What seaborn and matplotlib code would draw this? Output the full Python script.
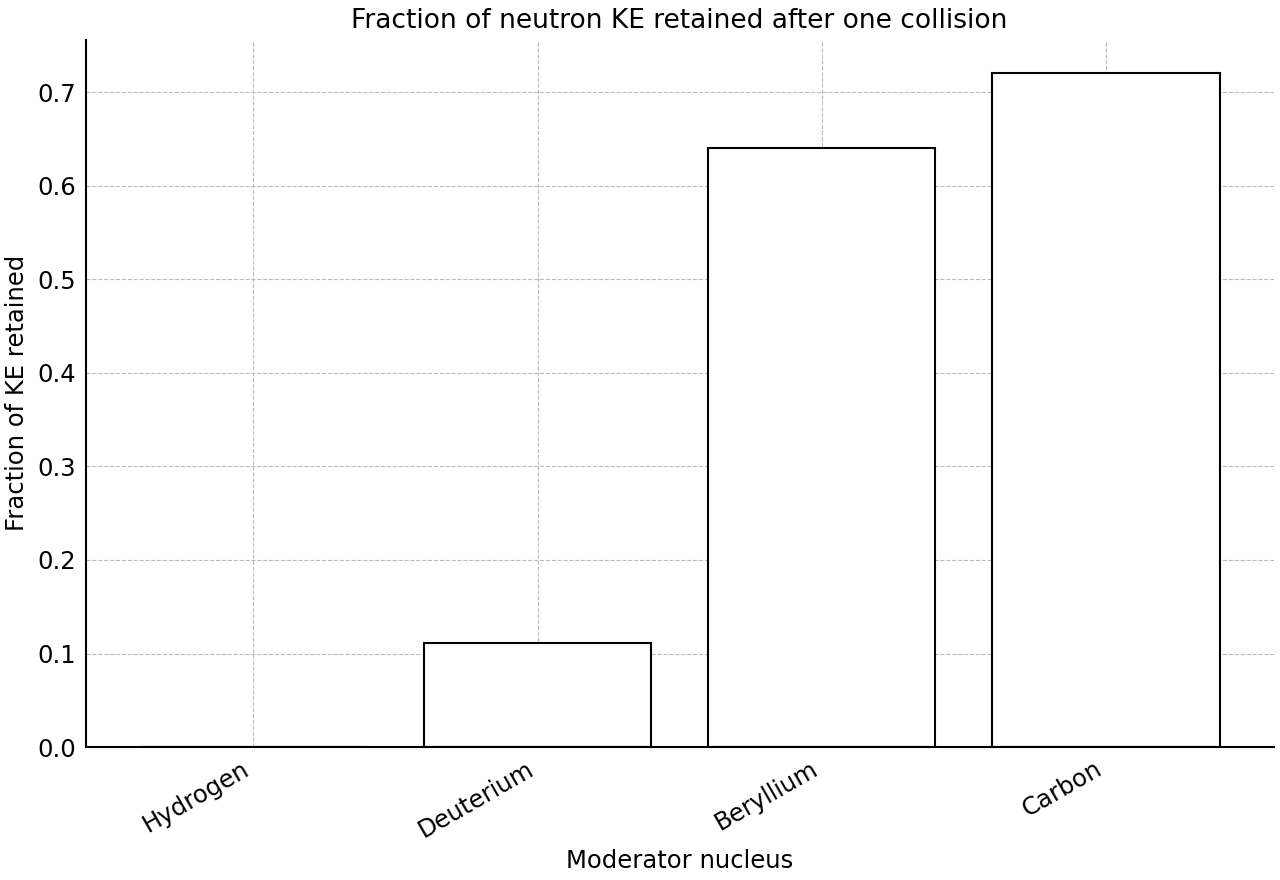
import matplotlib
matplotlib.use("Agg")
import matplotlib.pyplot as plt
import seaborn as sns

nuclei = ["Hydrogen", "Deuterium", "Beryllium", "Carbon"]
ke_retained = [0.0, 0.111, 0.64, 0.72]

sns.set_style("white")
plt.rcParams["font.family"] = ["DejaVu Sans"]
plt.rcParams["text.color"] = "black"
plt.rcParams["axes.labelcolor"] = "black"
plt.rcParams["xtick.color"] = "black"
plt.rcParams["ytick.color"] = "black"

fig, ax = plt.subplots(figsize=(12.8, 8.8), dpi=100)

sns.barplot(x=nuclei, y=ke_retained, ax=ax, color="white",
            edgecolor="black", linewidth=1.5, width=0.8, errorbar=None)

ax.set_axisbelow(True)
ax.grid(True, axis="both", linestyle="--", color="#bbbbbb", linewidth=0.8)
ax.set_xlim(-0.59, 3.59)
ax.set_ylim(0, 0.756)
ax.set_title("Fraction of neutron KE retained after one collision", fontsize=19, pad=8)
ax.set_xlabel("Moderator nucleus", fontsize=17.5, labelpad=5)
ax.set_ylabel("Fraction of KE retained", fontsize=17.5, labelpad=6)
ax.tick_params(direction="in", length=6, width=1.2, labelsize=17.5, pad=7)
plt.setp(ax.get_xticklabels(), rotation=30, ha="right")
sns.despine(ax=ax)
for s in ["left", "bottom"]:
    ax.spines[s].set_linewidth(1.5)
    ax.spines[s].set_color("black")

fig.subplots_adjust(left=0.067, right=0.995, top=0.955, bottom=0.151)
fig.savefig("out.png", dpi=100)
